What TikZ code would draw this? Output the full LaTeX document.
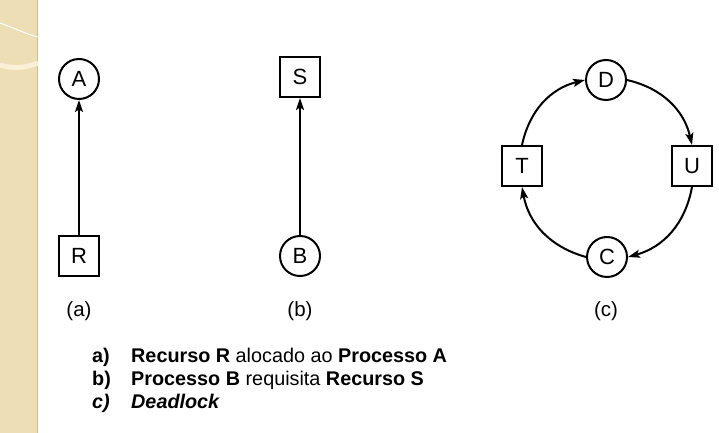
\documentclass[tikz,border=0pt]{standalone}
\usepackage{fontspec}
\setmainfont{Liberation Sans}
\usetikzlibrary{arrows.meta}
\definecolor{strip}{RGB}{238,222,181}
\definecolor{stripedge}{RGB}{205,188,150}
\definecolor{stripcurve}{RGB}{250,240,215}
\begin{document}
\begin{tikzpicture}[x=1pt,y=1pt,
  proc/.style={circle,draw,line width=2pt,minimum size=40pt,inner sep=0pt,font=\fontsize{22}{26}\selectfont},
  res/.style={rectangle,draw,line width=2pt,minimum size=40pt,inner sep=0pt,font=\fontsize{22}{26}\selectfont},
  arr/.style={line width=2pt,-{Stealth[length=12pt,width=8pt,inset=2.5pt]}},
  sublabel/.style={font=\fontsize{20.5}{24}\selectfont},
  txt/.style={anchor=base west,inner sep=0pt,font=\fontsize{19.8}{23}\selectfont}]
\useasboundingbox (0,0) rectangle (719,433);
\fill[white] (0,0) rectangle (719,433);
% left decorative strip
\fill[strip] (0,0) rectangle (38,433);
\draw[stripedge,line width=1.5pt] (37.5,0) -- (37.5,433);
\draw[white,line width=1pt] (0,410) .. controls (14,405) and (26,399) .. (38,396);
\draw[stripcurve,line width=5pt] (0,368) .. controls (12,364) and (26,365) .. (38,370);
% (a)
\node[proc] (A) at (79,354) {A};
\node[res]  (R) at (79,177) {R};
\draw[arr] (R.north) -- (A.south);
\node[sublabel] (la) at (79,122) {(a)};
% (b)
\node[res]  (S) at (300,356) {S};
\node[proc] (B) at (300,177) {B};
\draw[arr] (B.north) -- (S.south);
\node[sublabel] (lb) at (300,122) {(b)};
% (c)
\node[proc] (D) at (606,353) {D};
\node[res]  (T) at (522,267) {T};
\node[res]  (U) at (692,267) {U};
\node[proc] (C) at (607,176) {C};
\draw[arr] (T.north) to[bend left=32] (D.west);
\draw[arr] (D.east) to[bend left=32] (U.north);
\draw[arr] (U.south) to[bend left=32] (C.east);
\draw[arr] (C.west) to[bend left=32] (T.south);
\node[sublabel] (lc) at (606,122) {(c)};
% legend
\node[txt] (ka) at (92,70) {\bfseries a)};
\node[txt] (ta) at (131,70) {\textbf{Recurso R} alocado ao \textbf{Processo A}};
\node[txt] (kb) at (92,47) {\bfseries b)};
\node[txt] (tb) at (131,47) {\textbf{Processo B} requisita \textbf{Recurso S}};
\node[txt] (kc) at (92,24) {\bfseries\itshape c)};
\node[txt] (tc) at (131,24) {\bfseries\itshape Deadlock};
\end{tikzpicture}
\end{document}
